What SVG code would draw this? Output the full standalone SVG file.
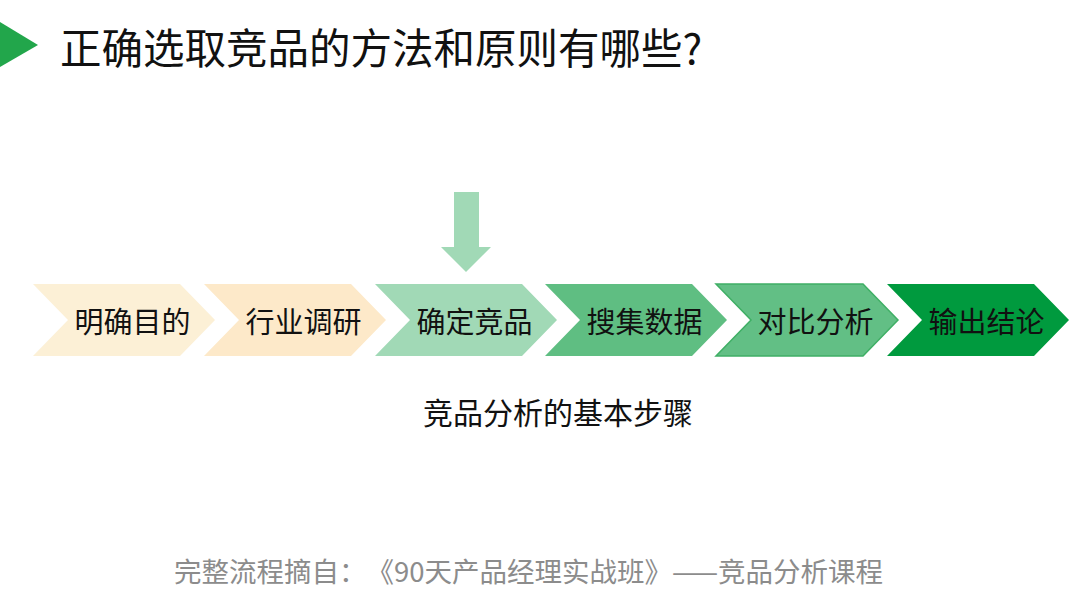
<svg xmlns="http://www.w3.org/2000/svg" width="1080" height="614" viewBox="0 0 1080 614">
<style>
text{font-family:"Microsoft YaHei","Noto Sans CJK SC",sans-serif;text-spacing-trim:space-all;}
.lbl{font-size:29px;fill:#111;text-anchor:middle;}
</style>
<defs>
<path id="chev" d="M0,0 H147 L182,36 L147,72 H0 L35,36 Z"/>
</defs>
<rect width="1080" height="614" fill="#fff"/>
<g id="title">
<polygon points="0,22 38,45 0,67" fill="#22A64B"/>
<text x="60" y="64" font-size="41.5" fill="#111">正确选取竞品的方法和原则有哪些?</text>
</g>
<g id="connectors">
<polygon points="454,192 479,192 479,247 491,247 466,272 441,247 454,247" fill="#A1D9B6"/>
</g>
<g id="step1"><use href="#chev" x="33" y="284" fill="#FCF0D6"/><text class="lbl" x="132.5" y="333">明确目的</text></g>
<g id="step2"><use href="#chev" x="204" y="284" fill="#FDE9C9"/><text class="lbl" x="303.5" y="333">行业调研</text></g>
<g id="step3"><use href="#chev" x="375" y="284" fill="#A1D9B6"/><text class="lbl" x="474.5" y="333">确定竞品</text></g>
<g id="step4"><use href="#chev" x="545" y="284" fill="#5FBE82"/><text class="lbl" x="644.5" y="333">搜集数据</text></g>
<g id="step5"><use href="#chev" x="716" y="284" fill="#62BF85" stroke="#3FAF65" stroke-width="1.5"/><text class="lbl" x="815.5" y="333">对比分析</text></g>
<g id="step6"><use href="#chev" x="887" y="284" fill="#009A3E"/><text class="lbl" x="986.5" y="333">输出结论</text></g>
<g id="caption"><text x="558" y="424" font-size="30" fill="#111" text-anchor="middle">竞品分析的基本步骤</text></g>
<g id="footer"><text x="528.5" y="582" font-size="27.5" fill="#8C8C8C" text-anchor="middle">完整流程摘自：《90天产品经理实战班》——竞品分析课程</text></g>
</svg>
